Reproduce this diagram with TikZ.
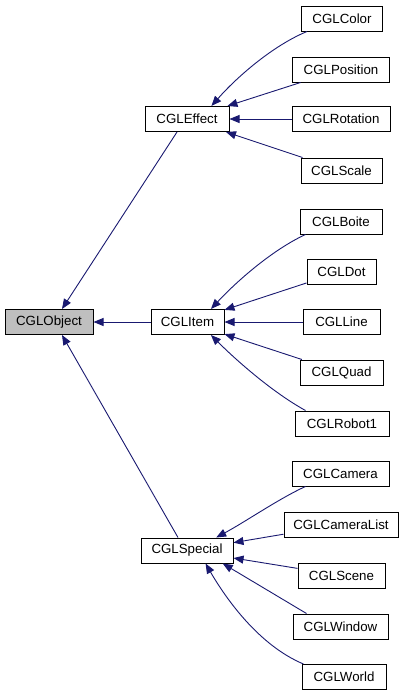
\documentclass[tikz,border=0pt]{standalone}
\usepackage{fontspec}
\setmainfont{Liberation Sans}
\usetikzlibrary{arrows.meta,calc}
\definecolor{edgeblue}{HTML}{191970}
\definecolor{rootgray}{HTML}{BFBFBF}
\tikzset{
  cls/.style={draw=black, line width=1pt, minimum height=25pt, inner sep=0pt,
    font=\fontsize{13.3}{16}\selectfont, fill=white},
  root/.style={cls, fill=rootgray},
  inh/.style={draw=edgeblue, line width=0.9pt,
    {Triangle[length=10pt,width=8pt,fill=edgeblue]}-},
}
\begin{document}
\begin{tikzpicture}[x=1pt,y=-1pt]
\useasboundingbox (0,0) rectangle (405,696);
% nodes
\node[root, minimum width=88pt] (obj) at (49,322) {CGLObject};
\node[cls, minimum width=84pt] (eff) at (187,119) {CGLEffect};
\node[cls, minimum width=73pt] (item) at (187.5,322) {CGLItem};
\node[cls, minimum width=92pt] (spec) at (187,550.5) {CGLSpecial};
\node[cls, minimum width=81pt] (color) at (342,18.5) {CGLColor};
\node[cls, minimum width=97pt] (pos) at (341,69.5) {CGLPosition};
\node[cls, minimum width=98pt] (rot) at (341,119) {CGLRotation};
\node[cls, minimum width=81pt] (scale) at (341.5,170.5) {CGLScale};
\node[cls, minimum width=82pt] (boite) at (341,221.5) {CGLBoite};
\node[cls, minimum width=69pt] (dot) at (341.5,271.5) {CGLDot};
\node[cls, minimum width=77pt] (line) at (341.5,322) {CGLLine};
\node[cls, minimum width=83pt] (quad) at (341.5,372.5) {CGLQuad};
\node[cls, minimum width=94pt] (robot) at (342,423.5) {CGLRobot1};
\node[cls, minimum width=97pt] (cam) at (340.5,473.5) {CGLCamera};
\node[cls, minimum width=114pt] (camlist) at (341,524.5) {CGLCameraList};
\node[cls, minimum width=87pt] (scene) at (341.5,575.5) {CGLScene};
\node[cls, minimum width=95pt] (win) at (340.5,626.5) {CGLWindow};
\node[cls, minimum width=84pt] (world) at (344,677) {CGLWorld};
% edges to CGLEffect
\draw[inh] (eff.28) .. controls (236,78) and (272,46) .. ($(color.south west)+(6,0)$);
\draw[inh] (eff) -- (pos);
\draw[inh] (eff.east) -- (rot.west);
\draw[inh] (eff) -- (scale);
% edges to CGLItem
\draw[inh] (item.29) .. controls (236,282) and (272,250) .. ($(boite.south west)+(6,0)$);
\draw[inh] (item) -- (dot);
\draw[inh] (item.east) -- (line.west);
\draw[inh] (item) -- (quad);
\draw[inh] (item.-29) .. controls (236,360) and (272,392) .. ($(robot.north west)+(11,0)$);
% edges to CGLSpecial
\draw[inh] (spec.24) .. controls (245,522) and (280,498) .. ($(cam.south west)+(14,0)$);
\draw[inh] (spec) -- (camlist);
\draw[inh] (spec) -- (scene);
\draw[inh] (spec.-20) -- ($(win.north west)+(14,0)$);
\draw[inh] (spec.-35) .. controls (225,597) and (258,645) .. ($(world.north west)+(2,0)$);
% edges to CGLObject
\draw[inh] ($(obj.north)+(13,0)$) -- ($(eff.south)+(-10,0)$);
\draw[inh] (obj.east) -- (item.west);
\draw[inh] ($(obj.south)+(13,0)$) -- ($(spec.north)+(-9,0)$);
\end{tikzpicture}
\end{document}
